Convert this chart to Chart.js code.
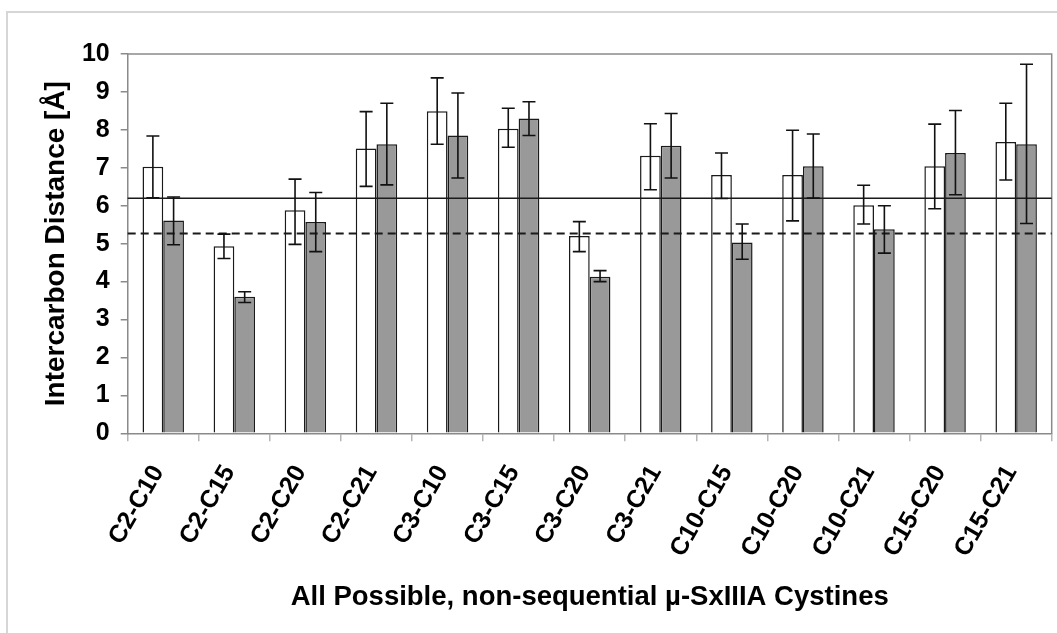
<!DOCTYPE html>
<html>
<head>
<meta charset="utf-8">
<script src="https://cdn.jsdelivr.net/npm/chart.js@4.4.0/dist/chart.umd.min.js"></script>
<style>
  html, body { margin: 0; padding: 0; background: #fff; }
  #wrap { position: relative; width: 1057px; height: 633px; }
</style>
</head>
<body>
<div id="wrap"><canvas id="myChart" width="1057" height="633"></canvas></div>
<script>
const categories = ['C2-C10', 'C2-C15', 'C2-C20', 'C2-C21', 'C3-C10', 'C3-C15', 'C3-C20',
    'C3-C21', 'C10-C15', 'C10-C20', 'C10-C21', 'C15-C20', 'C15-C21'];

// open bars
const whiteValues = [7.03, 4.93, 5.88, 7.51, 8.49, 8.03, 5.20, 7.32, 6.81, 6.81, 6.01, 7.04, 7.68];
const whiteHigh   = [7.84, 5.25, 6.70, 8.48, 9.37, 8.57, 5.58, 8.16, 7.39, 7.99, 6.54, 8.15, 8.70];
const whiteLow    = [6.21, 4.61, 4.98, 6.51, 7.62, 7.54, 4.79, 6.42, 6.19, 5.60, 5.52, 5.92, 6.68];

// grey bars
const greyValues = [5.61, 3.60, 5.57, 7.62, 7.85, 8.30, 4.13, 7.58, 5.03, 7.04, 5.38, 7.39, 7.62];
const greyHigh   = [6.23, 3.73, 6.35, 8.70, 8.97, 8.74, 4.29, 8.43, 5.52, 7.89, 6.00, 8.51, 9.73];
const greyLow    = [4.97, 3.45, 4.79, 6.55, 6.73, 7.85, 4.00, 6.73, 4.59, 6.20, 4.75, 6.29, 5.53];

const yTicks = [0, 1, 2, 3, 4, 5, 6, 7, 8, 9, 10];
const solidRef = 6.2;
const dashedRef = 5.27;

const FONT = '"Liberation Sans", Arial, sans-serif';
const PLOT_LEFT = 127.7;
const PLOT_BOTTOM = 433.3;

const errorHigh = [whiteHigh, greyHigh];
const errorLow = [whiteLow, greyLow];

const decorPlugin = {
    id: 'decor',
    beforeDraw(chart) {
        const ctx = chart.ctx;
        ctx.save();
        ctx.fillStyle = '#fff';
        ctx.fillRect(0, 0, chart.width, chart.height);
        // outer frame, runs off the right and bottom
        ctx.strokeStyle = '#d6d6d6';
        ctx.lineWidth = 2;
        ctx.strokeRect(7, 12, chart.width + 20, chart.height + 20);
        ctx.restore();
    },
    afterDatasetsDraw(chart) {
        const ctx = chart.ctx;
        const area = chart.chartArea;
        const y = chart.scales.y;
        ctx.save();

        // plot area border (top and right)
        ctx.strokeStyle = '#8a8a8a';
        ctx.lineWidth = 1.5;
        ctx.beginPath();
        ctx.moveTo(area.left, area.top);
        ctx.lineTo(area.right, area.top);
        ctx.lineTo(area.right, area.bottom);
        ctx.stroke();

        // reference lines
        ctx.strokeStyle = '#1a1a1a';
        ctx.lineWidth = 1.5;
        let yy = y.getPixelForValue(solidRef);
        ctx.beginPath();
        ctx.moveTo(area.left, yy);
        ctx.lineTo(area.right, yy);
        ctx.stroke();

        ctx.lineWidth = 2;
        ctx.setLineDash([8, 5]);
        yy = y.getPixelForValue(dashedRef);
        ctx.beginPath();
        ctx.moveTo(area.left, yy);
        ctx.lineTo(area.right, yy);
        ctx.stroke();
        ctx.setLineDash([]);

        // error bars
        ctx.strokeStyle = '#111';
        ctx.lineWidth = 1.6;
        chart.data.datasets.forEach((ds, di) => {
            const meta = chart.getDatasetMeta(di);
            meta.data.forEach((bar, i) => {
                const top = y.getPixelForValue(errorHigh[di][i]);
                const bot = y.getPixelForValue(errorLow[di][i]);
                const half = 6.5;
                ctx.beginPath();
                ctx.moveTo(bar.x, top);
                ctx.lineTo(bar.x, bot);
                ctx.moveTo(bar.x - half, top);
                ctx.lineTo(bar.x + half, top);
                ctx.moveTo(bar.x - half, bot);
                ctx.lineTo(bar.x + half, bot);
                ctx.stroke();
            });
        });
        ctx.restore();
    }
};

const ctx = document.getElementById('myChart').getContext('2d');

new Chart(ctx, {
    type: 'bar',
    data: {
        labels: categories,
        datasets: [{
            data: whiteValues,
            backgroundColor: '#ffffff',
            borderColor: '#1a1a1a',
            borderWidth: 1.5,
            categoryPercentage: 0.583,
            barPercentage: 1.0
        }, {
            data: greyValues,
            backgroundColor: '#999999',
            borderColor: '#1a1a1a',
            borderWidth: 1.5,
            categoryPercentage: 0.583,
            barPercentage: 1.0
        }]
    },
    options: {
        responsive: false,
        animation: false,
        layout: { padding: { left: 30, top: 54, right: 5.3, bottom: 0 } },
        plugins: {
            legend: { display: false },
            tooltip: { enabled: false }
        },
        scales: {
            x: {
                grid: { offset: true, drawOnChartArea: false, tickLength: 8, color: '#b5b5b5', lineWidth: 1.5 },
                border: { color: '#8a8a8a', width: 1.5 },
                ticks: {
                    autoSkip: false,
                    minRotation: 60,
                    maxRotation: 60,
                    color: '#000',
                    padding: 19,
                    labelOffset: -5,
                    font: { family: FONT, size: 25, weight: 'bold' }
                },
                title: {
                    display: true,
                    text: 'All Possible, non-sequential µ-SxIIIA Cystines',
                    color: '#000',
                    font: { family: FONT, size: 27.5, weight: 'bold' },
                    padding: { top: 0, bottom: 19 }
                },
                afterFit(scale) {
                    scale.height = 633 - PLOT_BOTTOM;
                    scale.paddingLeft = 0;
                    scale.paddingRight = 0;
                }
            },
            y: {
                min: 0,
                max: 10,
                afterBuildTicks(scale) { scale.ticks = yTicks.map(v => ({ value: v })); },
                grid: { drawOnChartArea: false, tickLength: 7, color: '#8a8a8a', lineWidth: 1.5 },
                border: { color: '#8a8a8a', width: 1.5 },
                ticks: {
                    color: '#000',
                    padding: 11,
                    font: { family: FONT, size: 25, weight: 'bold' }
                },
                title: {
                    display: true,
                    text: 'Intercarbon Distance [Å]',
                    color: '#000',
                    font: { family: FONT, size: 28, weight: 'bold' },
                    padding: { top: 9, bottom: 0 }
                },
                afterFit(scale) { scale.width = PLOT_LEFT - 30; }
            }
        }
    },
    plugins: [decorPlugin]
});
</script>
</body>
</html>
